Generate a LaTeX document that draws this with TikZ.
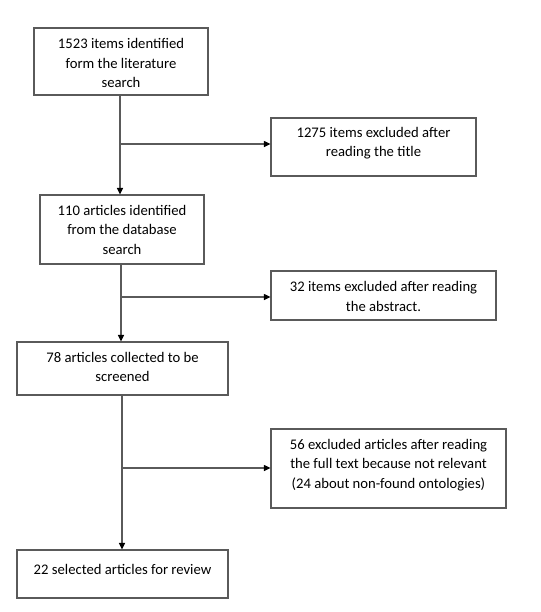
\documentclass[tikz,border=0pt]{standalone}
\usepackage{fontspec}
\setmainfont{Carlito}
\usetikzlibrary{arrows.meta,calc}
\definecolor{linegray}{HTML}{5A5A5A}
\begin{document}
\begin{tikzpicture}[x=0.75pt,y=-0.75pt,
  box/.style={draw=linegray, line width=0.8pt, rectangle, inner sep=0pt},
  txt/.style={align=center, inner sep=0pt, font=\fontsize{11pt}{14.6pt}\selectfont},
  conn/.style={draw=linegray, line width=0.8pt, -{Triangle[length=5pt,width=4.6pt,color=black]}}]
\useasboundingbox (0,0) rectangle (541,612);
% boxes
\node[box, minimum width=174*0.75pt, minimum height=67*0.75pt] (b1) at (121,61.5) {};
\node[box, minimum width=205*0.75pt, minimum height=58*0.75pt] (b2) at (373.5,147) {};
\node[box, minimum width=164*0.75pt, minimum height=69*0.75pt] (b3) at (122,229.5) {};
\node[box, minimum width=225*0.75pt, minimum height=49*0.75pt] (b5) at (383.5,295.5) {};
\node[box, minimum width=211*0.75pt, minimum height=53*0.75pt] (b4) at (122.5,368.5) {};
\node[box, minimum width=235*0.75pt, minimum height=79*0.75pt] (b6) at (388.5,468.5) {};
\node[box, minimum width=211*0.75pt, minimum height=48*0.75pt] (b7) at (122.5,574) {};
% texts
\node[txt] (t1) at (121,63) {1523 items identified\\form the literature\\search};
\node[txt] (t2) at (373.5,143) {1275 items excluded after\\reading the title};
\node[txt] (t3) at (122,229.5) {110 articles identified\\from the database\\search};
\node[txt] (t5) at (383.5,296.5) {32 items excluded after reading\\the abstract.};
\node[txt] (t4) at (122.5,367) {78 articles collected to be\\screened};
\node[txt] (t6) at (388.5,465) {56 excluded articles after reading\\the full text because not relevant\\(24 about non-found ontologies)};
\node[txt] (t7) at (122.5,569) {22 selected articles for review};
% junctions
\coordinate (j1) at (120,144);
\coordinate (j2) at (121,297);
\coordinate (j3) at (122,468);
% connectors
\draw[conn] (b1.south -| j1) -- (j1 |- b3.north);
\draw[conn] (j1) -- (j1 -| b2.west);
\draw[conn] (b3.south -| j2) -- (j2 |- b4.north);
\draw[conn] (j2) -- (j2 -| b5.west);
\draw[conn] (b4.south -| j3) -- (j3 |- b7.north);
\draw[conn] (j3) -- (j3 -| b6.west);
\end{tikzpicture}
\end{document}
